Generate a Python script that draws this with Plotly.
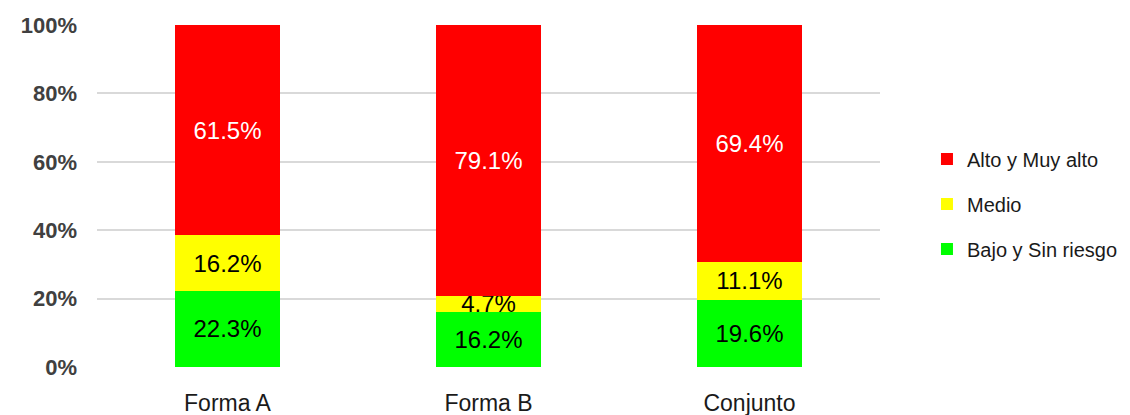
import plotly.graph_objects as go

categories = ["Forma A", "Forma B", "Conjunto"]
bajo = [22.3, 16.2, 19.6]
medio = [16.2, 4.7, 11.1]
alto = [61.5, 79.1, 69.4]
series_names = ["Bajo y Sin riesgo", "Medio", "Alto y Muy alto"]
y_tick_vals = [0, 20, 40, 60, 80, 100]
y_tick_text = ["0%", "20%", "40%", "60%", "80%", "100%"]

colors = ["#00FF00", "#FFFF00", "#FF0000"]
text_colors = ["black", "black", "white"]
ranks = [3, 2, 1]

fig = go.Figure()
for i, (name, vals) in enumerate(zip(series_names, [bajo, medio, alto])):
    fig.add_trace(go.Bar(
        x=categories, y=vals, name=name, legendgroup=name, legendrank=ranks[i],
        marker=dict(color=colors[i], line=dict(width=0)),
        text=[f"{v:.1f}%" for v in vals],
        textposition="inside", insidetextanchor="middle",
        constraintext="none",
        textfont=dict(family="Liberation Sans, Arial, sans-serif", size=24, color=text_colors[i]),
        hoverinfo="skip",
    ))

# The page body has an 8px margin; the figure is sized/margined to compensate.
fig.update_layout(
    barmode="stack",
    bargap=0.6,
    width=1122, height=407,
    margin=dict(l=89, r=250, t=17, b=48, autoexpand=False),
    plot_bgcolor="white", paper_bgcolor="white",
    font=dict(family="Liberation Sans, Arial, sans-serif"),
    legend=dict(
        x=1.060, y=0.665, xanchor="left", yanchor="top",
        traceorder="grouped", tracegroupgap=16,
        font=dict(size=20, color="#1a1a1a"),
        itemwidth=30,
    ),
    showlegend=True,
)
fig.update_yaxes(
    range=[0, 100], tickvals=y_tick_vals, ticktext=y_tick_text,
    tickfont=dict(size=22, color="#404040", weight="bold"),
    showgrid=True, gridcolor="#d9d9d9", gridwidth=1.5,
    zeroline=False, showline=False, ticklabelstandoff=19,
    automargin=False,
)
fig.update_xaxes(
    tickfont=dict(size=23, color="#1a1a1a"),
    showline=False, ticklabelstandoff=20, automargin=False,
)

fig.write_html("out.html")
